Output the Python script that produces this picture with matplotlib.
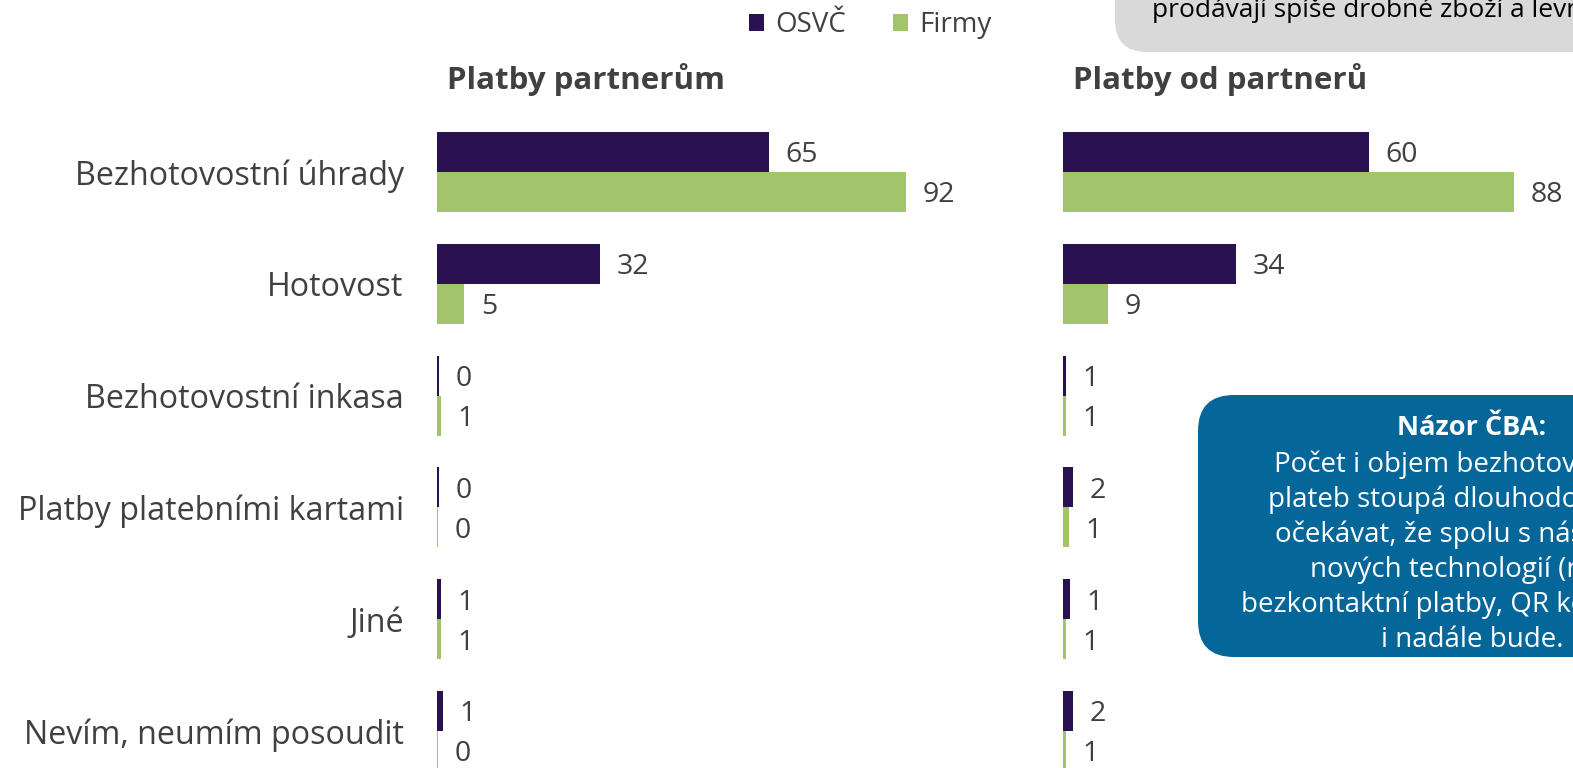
import matplotlib
matplotlib.use("Agg")
import matplotlib.pyplot as plt
from matplotlib.patches import FancyBboxPatch, Patch

plt.rcParams["font.family"] = ["Open Sans", "DejaVu Sans"]

categories = [
    "Bezhotovostní úhrady",
    "Hotovost",
    "Bezhotovostní inkasa",
    "Platby platebními kartami",
    "Jiné",
    "Nevím, neumím posoudit",
]
series_names = ["OSVČ", "Firmy"]

# Platby partnerům
out_osvc = [65.0, 32.0, 0.3, 0.3, 0.8, 1.2]
out_firmy = [91.9, 5.3, 0.8, 0.2, 0.8, 0.2]
# Platby od partnerů
in_osvc = [60.0, 34.0, 0.6, 2.0, 1.3, 2.0]
in_firmy = [88.4, 8.8, 0.6, 1.2, 0.6, 0.6]

panel_titles = ["Platby partnerům", "Platby od partnerů"]

note_title = "Názor ČBA:"
note_lines = [
    "Počet i objem bezhotovostních",
    "plateb stoupá dlouhodobě a lze",
    "očekávat, že spolu s nástupem",
    "nových technologií (např.",
    "bezkontaktní platby, QR kódy) tomu",
    "i nadále bude.",
]
top_note = "prodávají spíše drobné zboží a levné služby."

PURPLE = "#2a1152"
GREEN = "#a2c56b"
TXT = "#404040"
BLUE = "#056699"
GREY = "#d9d9d9"

W, H = 1573, 768
fig = plt.figure(figsize=(W / 100, H / 100), dpi=100)

# background decoration layer in pixel coordinates
deco = fig.add_axes([0, 0, 1, 1])
deco.set_xlim(0, W)
deco.set_ylim(H, 0)
deco.axis("off")

deco.add_patch(FancyBboxPatch((1115, -80), 600, 132,
                              boxstyle="round,pad=0,rounding_size=32",
                              fc=GREY, ec="none"))
deco.text(1152, 17, top_note, fontsize=19, color="black", va="baseline", ha="left")

deco.add_patch(FancyBboxPatch((1198, 395), 500, 262,
                              boxstyle="round,pad=0,rounding_size=36",
                              fc=BLUE, ec="none"))
deco.text(1472, 428, note_title, fontsize=19.5, fontweight="bold", color="white",
          ha="center", va="center")
for i, line in enumerate(note_lines):
    deco.text(1472, 465 + i * 35, line, fontsize=20, color="white", ha="center", va="center")


def px_axes(x0, x1, y0, y1):
    return fig.add_axes([x0 / W, 1 - y1 / H, (x1 - x0) / W, (y1 - y0) / H])


row_h = 111.8
bar_h = 40 / row_h
ypos = list(range(len(categories)))

panels = [(437, out_osvc, out_firmy), (1063, in_osvc, in_firmy)]
for k, (x0, osvc, firmy) in enumerate(panels):
    ax = px_axes(x0, x0 + 510, 116, H)
    ax.patch.set_alpha(0)
    ax.barh([y - bar_h / 2 for y in ypos], osvc, height=bar_h, color=PURPLE)
    ax.barh([y + bar_h / 2 for y in ypos], firmy, height=bar_h, color=GREEN)
    for y, v in zip(ypos, osvc):
        ax.annotate(f"{round(v)}", (v, y - bar_h / 2), xytext=(12, -2.5), textcoords="offset points",
                    ha="left", va="center", fontsize=20.5, color=TXT, annotation_clip=False)
    for y, v in zip(ypos, firmy):
        ax.annotate(f"{round(v)}", (v, y + bar_h / 2), xytext=(12, -2.5), textcoords="offset points",
                    ha="left", va="center", fontsize=20.5, color=TXT, annotation_clip=False)
    ax.set_xlim(0, 100)
    ax.set_ylim((H - 172) / row_h, -56 / row_h)
    ax.set_xticks([])
    for s in ax.spines.values():
        s.set_visible(False)
    if k == 0:
        ax.set_yticks(ypos)
        ax.set_yticklabels(categories, fontsize=23.2, color=TXT)
        ax.tick_params(axis="y", length=0, pad=24)
    else:
        ax.set_yticks([])
    deco.text(x0 + 10, 80, panel_titles[k], fontsize=22.5, fontweight="bold", color=TXT,
              ha="left", va="center")

handles = [Patch(fc=PURPLE, ec="none"), Patch(fc=GREEN, ec="none")]
fig.legend(handles, series_names, loc="center", bbox_to_anchor=(870 / W, 1 - 25 / H),
           ncol=2, frameon=False, fontsize=20, handlelength=0.55, handleheight=0.55,
           handletextpad=0.4, columnspacing=1.7, labelcolor=TXT)

fig.savefig("out.png", dpi=100)
